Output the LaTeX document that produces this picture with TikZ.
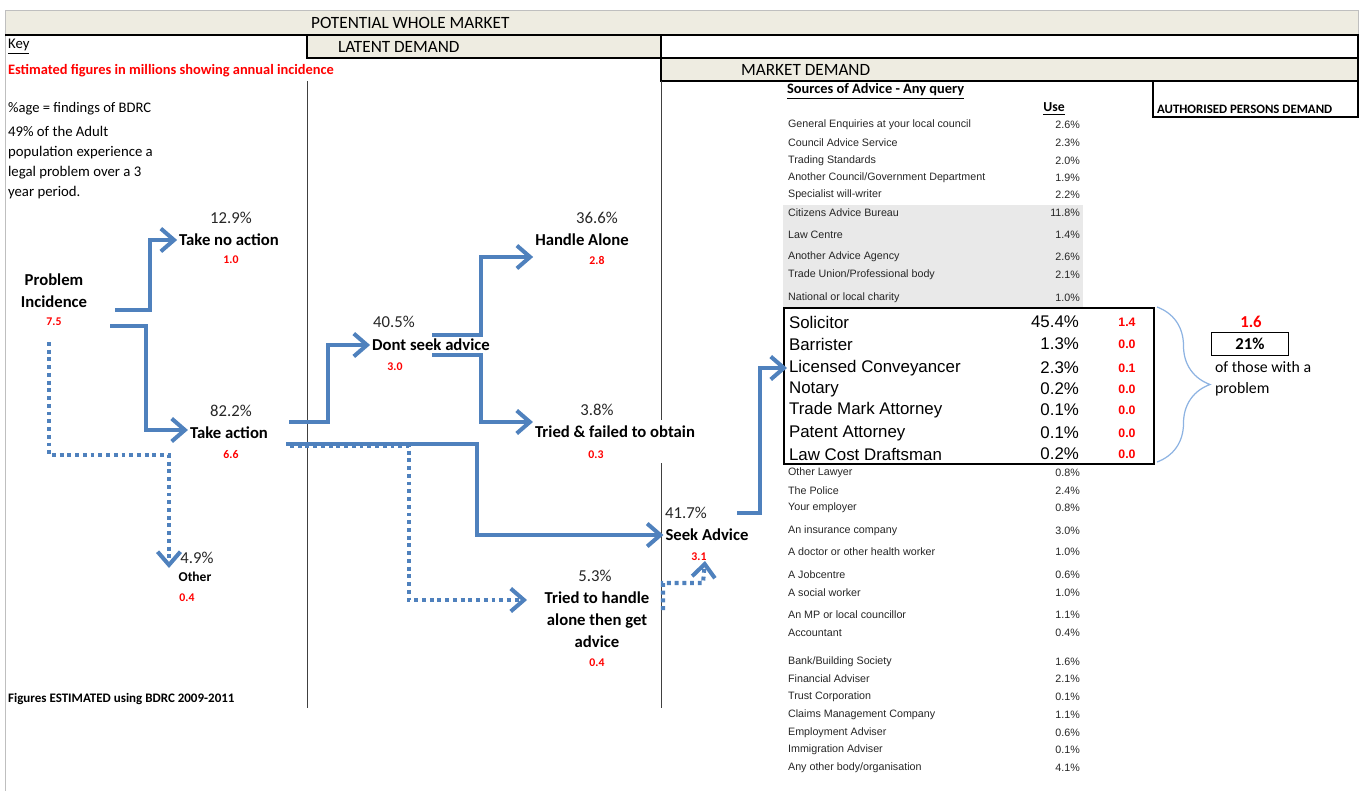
\documentclass[tikz,border=0pt]{standalone}
\usepackage{fontspec}
\setmainfont{Carlito}
\newfontfamily\arialfont{Liberation Sans}
\usetikzlibrary{arrows.meta,positioning,calc,decorations.pathreplacing}
\definecolor{flowc}{RGB}{79,129,189}
\definecolor{band}{RGB}{238,236,225}
\definecolor{brk}{RGB}{141,179,226}
\definecolor{cellgray}{RGB}{233,233,233}
\newcommand\hdrsize{\fontsize{9.8}{11.8}\selectfont}
\newcommand\keysize{\fontsize{8.4}{11.5}\selectfont}
\newcommand\flowsize{\fontsize{9.5}{12.5}\selectfont}
\newcommand\numsize{\fontsize{6.7}{8}\selectfont}
\newcommand\srcsize{\fontsize{6.1}{7.3}\selectfont}
\newcommand\apsize{\fontsize{9.6}{11.5}\selectfont}

\begin{document}
\begin{tikzpicture}[x=0.02cm, y=-0.02cm,
    every node/.append style={inner sep=1pt},
    hdr/.style={font=\hdrsize, anchor=west},
    key/.style={font=\keysize, anchor=west, align=left},
    lbl/.style={font=\flowsize\bfseries, align=center},
    pct/.style={font=\flowsize, text=black!85},
    num/.style={font=\numsize\bfseries, text=red},
    flow/.style={line width=2.3pt, flowc, -{Straight Barb[length=7.5pt,width=13pt]}},
    dflow/.style={flow, dash pattern=on 2.2pt off 2.2pt},
    src/.style={font=\arialfont\srcsize, anchor=west, text=black!85},
    use/.style={font=\arialfont\srcsize, anchor=east, text=black!85},
    ap/.style={font=\arialfont\apsize, anchor=west},
    apu/.style={font=\arialfont\apsize, anchor=east},
    apn/.style={font=\arialfont\fontsize{7}{8}\selectfont\bfseries, text=red}
  ]
  \useasboundingbox (0,0) rectangle (1362,791);

  % header bands
  \filldraw[fill=band, draw=black!25] (5,10) rectangle (1358,35);
  \draw[black!25] (5,35) -- (5,791);
  \draw[line width=1pt] (5,35) -- (1358,35);
  \filldraw[fill=band, line width=1pt] (307,35) rectangle (661,58);
  \draw[line width=0.8pt] (661,35) rectangle (1358,58);
  \filldraw[fill=band, line width=1pt] (661,58) rectangle (1358,81);
  \draw[line width=0.8pt] (1153,81) rectangle (1358,117);
  \draw[black!75] (307,81) -- (307,708);
  \draw[black!75] (661,81) -- (661,420);
  \draw[black!75] (661,463) -- (661,708);

  \node[hdr] (pwm) at (309,23) {POTENTIAL WHOLE MARKET};
  \node[hdr] (latent) at (336,47) {LATENT DEMAND};
  \node[hdr] (market) at (739,70) {MARKET DEMAND};
  \node[font=\fontsize{7.3}{8.5}\selectfont\bfseries, anchor=west] (auth) at (1155,109) {AUTHORISED PERSONS DEMAND};

  % key
  \node[key] (keyhd) at (6,47) {\underline{Key}};
  \node[key, font=\fontsize{8.2}{9.5}\selectfont\bfseries, text=red] (est) at (6,71) {Estimated figures in millions showing annual incidence};
  \node[key, font=\fontsize{8.3}{10}\selectfont] (bdrc) at (6,109) {\%age = findings of BDRC};
  \node[key] (adult) at (6,162.5) {49\% of the Adult\\population experience a\\legal problem over a 3\\year period.};
  \node[key, font=\fontsize{7.4}{8.5}\selectfont\bfseries] (figs) at (6,699) {Figures ESTIMATED using BDRC 2009-2011};

  % flow
  \node[lbl] (pi) at (54,291) {Problem\\Incidence};
  \node[num] (v-pi) at (54,322) {7.5};
  \node[lbl] (tna) at (229,240) {Take no action};
  \node[pct] (p-tna) at (231,218) {12.9\%};
  \node[num] (v-tna) at (231,260) {1.0};
  \node[lbl] (ta) at (229,433) {Take action};
  \node[pct] (p-ta) at (231,411) {82.2\%};
  \node[num] (v-ta) at (231,455) {6.6};
  \node[lbl, font=\fontsize{7.7}{9}\selectfont\bfseries] (oth) at (195,577) {Other};
  \node[pct] (p-oth) at (197,558) {4.9\%};
  \node[num] (v-oth) at (187,598) {0.4};
  \node[lbl] (dsa) at (431,345) {Dont seek advice};
  \node[pct] (p-dsa) at (394,322) {40.5\%};
  \node[num] (v-dsa) at (395,367) {3.0};
  \node[lbl] (ha) at (582,240) {Handle Alone};
  \node[pct] (p-ha) at (597,218) {36.6\%};
  \node[num] (v-ha) at (597,260) {2.8};
  \node[lbl] (tf) at (615,432) {Tried \& failed to obtain};
  \node[pct] (p-tf) at (597,410) {3.8\%};
  \node[num] (v-tf) at (596,455) {0.3};
  \node[lbl] (th) at (597,620) {Tried to handle\\alone then get\\advice};
  \node[pct] (p-th) at (595,576) {5.3\%};
  \node[num] (v-th) at (597,663) {0.4};
  \node[lbl] (sa) at (707,535) {Seek Advice};
  \node[pct] (p-sa) at (686,513) {41.7\%};
  \node[num] (v-sa) at (699,557) {3.1};

  % sources table
  \node[font=\fontsize{8.2}{9.5}\selectfont\bfseries, anchor=west] (srchd) at (785,91) {\underline{Sources of Advice - Any query}};
  \node[font=\fontsize{7.8}{9}\selectfont\bfseries] (usehd) at (1054,109) {\underline{Use}};
  \fill[cellgray] (783,205) rectangle (1083,307);
  \foreach \y/\lab/\val [count=\i] in {
      125/General Enquiries at your local council/2.6,
      143/Council Advice Service/2.3,
      161/Trading Standards/2.0,
      178/{Another Council/Government Department}/1.9,
      195/Specialist will-writer/2.2,
      213/Citizens Advice Bureau/11.8,
      235/Law Centre/1.4,
      257/Another Advice Agency/2.6,
      275/{Trade Union/Professional body}/2.1,
      298/National or local charity/1.0,
      473/Other Lawyer/0.8,
      491/The Police/2.4,
      508/Your employer/0.8,
      531/An insurance company/3.0,
      552/A doctor or other health worker/1.0,
      575/A Jobcentre/0.6,
      593/A social worker/1.0,
      615/An MP or local councillor/1.1,
      633/Accountant/0.4,
      662/{Bank/Building Society}/1.6,
      679/Financial Adviser/2.1,
      697/Trust Corporation/0.1,
      715/Claims Management Company/1.1,
      733/Employment Adviser/0.6,
      750/Immigration Adviser/0.1,
      768/{Any other body/organisation}/4.1}{
    \node[src] (src\i) at (786,\y) {\lab};
    \node[use] (use\i) at (1082,\y) {\val\%};
  }

  % authorised persons
  \foreach \y/\lab/\val/\mil [count=\i] in {
      322/Solicitor/45.4/1.4,
      344/Barrister/1.3/0.0,
      368/Licensed Conveyancer/2.3/0.1,
      389/Notary/0.2/0.0,
      410/Trade Mark Attorney/0.1/0.0,
      433/Patent Attorney/0.1/0.0,
      454/Law Cost Draftsman/0.2/0.0}{
    \node[ap] (ap\i) at (787,\y) {\lab};
    \node[apu] (apu\i) at (1081,\y) {\val\%};
    \node[apn] (apn\i) at (1127,\y) {\mil};
  }
  \draw[line width=0.9pt] (784,308) rectangle (1154,464);

  \draw[brk, line width=0.7pt, decorate, decoration={brace, amplitude=1.06cm}]
    (1157,307) -- (1157,462);
  \node[font=\flowsize\bfseries, text=red] (tot) at (1251,322) {1.6};
  \node[draw, line width=0.9pt, font=\flowsize\bfseries, minimum width=1.54cm, minimum height=0.46cm] (share) at (1250,344) {21\%};
  \node[key, font=\fontsize{9}{11.9}\selectfont] (share-txt) at (1213,379) {of those with a\\problem};

  % flow connectors
  \draw[flow] ($(pi)+(61,19)$) -- ++(35,0) |- (tna.west);
  \draw[flow] ($(pi)+(56,35)$) -- ++(36,0) |- ($(ta.west)+(0,-3)$);
  \draw[dflow] ($(pi)+(-5,51)$) -- ++(0,113) -| ($(oth)+(-26,-9)$);
  \draw[dflow] ($(ta)+(61,13)$) -- ++(119,0) |- ($(th)+(-70,-20)$);
  \draw[flow] ($(ta)+(60,-11)$) -- ++(39,0) |- (dsa.west);
  \draw[flow] ($(ta)+(57,11)$) -- ++(191,0) |- (sa.west);
  \draw[flow] ($(dsa)+(1,-10)$) -- ++(49,0) |- ($(ha.west)+(0,17)$);
  \draw[flow] ($(dsa)+(1,10)$) -- ++(49,0) |- ($(tf.west)+(0,-10)$);
  \draw[dflow] ($(th)+(66,-10)$) |- ($(sa)+(-4,48)$) -- ($(sa)+(-2,26)$);
  \draw[flow] ($(sa)+(30,-22)$) -- ++(23,0) |- (ap3.west);
\end{tikzpicture}
\end{document}
